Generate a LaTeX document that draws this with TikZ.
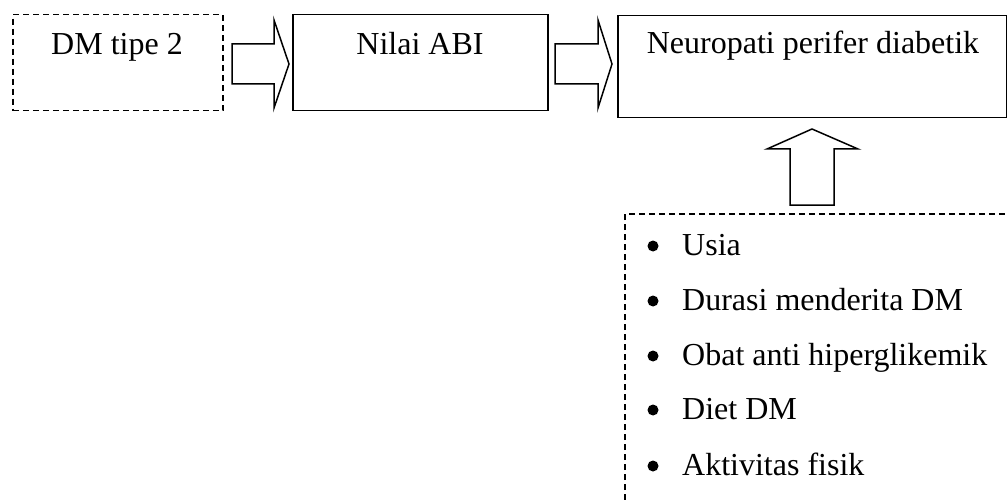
\documentclass[tikz,border=0pt]{standalone}
\usepackage{fontspec}
\setmainfont{Liberation Serif}
\begin{document}
\begin{tikzpicture}[x=1pt,y=-1pt,
  box/.style={draw, line width=1.5pt, inner sep=0pt, anchor=north west},
  dbox/.style={box, dash pattern=on 6pt off 4pt},
  lbl/.style={font=\fontsize{32}{38}\selectfont, anchor=base, inner sep=0pt},
  item/.style={lbl, anchor=base west},
  bul/.style={circle, fill, inner sep=0pt, minimum size=11pt},
  blockarrow/.style={draw, line width=1.5pt, line join=miter},
  dline/.style={draw, line width=1.5pt, dash pattern=on 6pt off 4pt}]
\useasboundingbox (0,0) rectangle (1007,500);
% boxes
\node[dbox, minimum width=210pt, minimum height=96pt] (dm) at (12,14) {};
\node[box, minimum width=255pt, minimum height=96pt] (abi) at (292,14) {};
\node[box, minimum width=389pt, minimum height=102pt] (npd) at (617,15) {};
% labels
\node[lbl] (tdm) at (117,55) {DM tipe 2};
\node[lbl] (tabi) at (420,55) {Nilai ABI};
\node[lbl] (tnpd) at (813,54) {Neuropati perifer diabetik};
% block arrows
\path[blockarrow] (232,44) -- (274,44) -- (274,20) -- (289,64) -- (274,108) -- (274,84) -- (232,84) -- cycle;
\path[blockarrow] (555,44) -- (598,44) -- (598,20) -- (612,64) -- (598,108) -- (598,84) -- (555,84) -- cycle;
\path[blockarrow] (790,205) -- (790,149) -- (767,149) -- (812,129) -- (858,149) -- (834,149) -- (834,205) -- cycle;
% factors box (open)
\coordinate (fb) at (625,500);
\coordinate (fc) at (625,214);
\coordinate (fr) at (1007,214);
\path[dline] (fb) -- (fc) -- (fr);
% items
\foreach \y/\t [count=\i] in {255/Usia, 310/Durasi menderita DM, 365/Obat anti hiperglikemik, 419/Diet DM, 475/Aktivitas fisik}{
  \node[bul] (b\i) at (653,\y-9) {};
  \node[item] (t\i) at (682,\y) {\t};
}
\end{tikzpicture}
\end{document}
